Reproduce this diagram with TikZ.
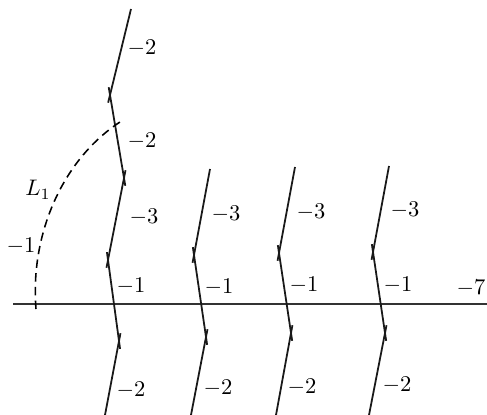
\documentclass[tikz,border=0pt]{standalone}
\usepackage{tikz}
\usetikzlibrary{positioning, calc}

\begin{document}
\begin{tikzpicture}[
        x=0.48pt, y=-0.48pt,
        curve/.style={line width=0.85pt, draw=black!90},
        upper/.style={curve, shorten >=-3.8pt},
        lower/.style={curve, shorten <=-3.8pt},
        cross/.style={curve, shorten <=-3.8pt, shorten >=-3.8pt},
        excep/.style={line width=1.1pt, draw=black!80},
        link/.style={line width=0.75pt, dashed, dash pattern=on 4pt off 2.6pt},
        num/.style={inner sep=0pt, scale=1.08}
    ]
        \useasboundingbox (0, 0) rectangle (487, 415);
        % first chain
        \coordinate (a0) at (131, 9);
        \coordinate (a1) at (110, 95);
        \coordinate (a2) at (124, 178);
        \coordinate (a3) at (108, 260);
        \coordinate (a4) at (119, 341);
        \coordinate (a5) at (105, 415);
        % second chain
        \coordinate (b0) at (210, 169);
        \coordinate (b1) at (194, 255);
        \coordinate (b2) at (206, 337);
        \coordinate (b3) at (191, 415);
        % third chain
        \coordinate (c0) at (295, 167);
        \coordinate (c1) at (279, 253);
        \coordinate (c2) at (291, 333);
        \coordinate (c3) at (276, 415);
        % fourth chain
        \coordinate (d0) at (389, 166);
        \coordinate (d1) at (373, 252);
        \coordinate (d2) at (385, 333);
        \coordinate (d3) at (369, 415);
        % long line
        \coordinate (e0) at (13, 304);
        \coordinate (e1) at (487, 304);
        \coordinate (f0) at (36, 309);
        \coordinate (f1) at (120, 122);
        \draw[excep] (e0) -- (e1);
        \draw[upper] (a0) -- (a1);
        \draw[cross] (a1) -- (a2);
        \draw[cross] (a2) -- (a3);
        \draw[cross] (a3) -- (a4);
        \draw[lower] (a4) -- (a5);
        \draw[upper] (b0) -- (b1);
        \draw[cross] (b1) -- (b2);
        \draw[lower] (b2) -- (b3);
        \draw[upper] (c0) -- (c1);
        \draw[cross] (c1) -- (c2);
        \draw[lower] (c2) -- (c3);
        \draw[upper] (d0) -- (d1);
        \draw[cross] (d1) -- (d2);
        \draw[lower] (d2) -- (d3);
        \draw[link] (f0) .. controls (30, 235) and (62, 160) .. (f1);
        \node[num] (la0) at (142, 48) {$-2$};
        \node[num] (la1) at (142, 141) {$-2$};
        \node[num] (la2) at (144, 217) {$-3$};
        \node[num] (la3) at (131, 286) {$-1$};
        \node[num] (la4) at (131, 390) {$-2$};
        \node[num] (lb0) at (226, 214) {$-3$};
        \node[num] (lb1) at (219, 287) {$-1$};
        \node[num] (lb2) at (218, 388) {$-2$};
        \node[num] (lc0) at (311, 212) {$-3$};
        \node[num] (lc1) at (304, 285) {$-1$};
        \node[num] (lc2) at (302, 387) {$-2$};
        \node[num] (ld0) at (405, 210) {$-3$};
        \node[num] (ld1) at (398, 285) {$-1$};
        \node[num] (ld2) at (397, 385) {$-2$};
        \node[num] (le0) at (471, 288) {$-7$};
        \node[num] (lf0) at (38, 190) {$L_1$};
        \node[num] (lf1) at (21, 246) {$-1$};
    \end{tikzpicture}
\end{document}
